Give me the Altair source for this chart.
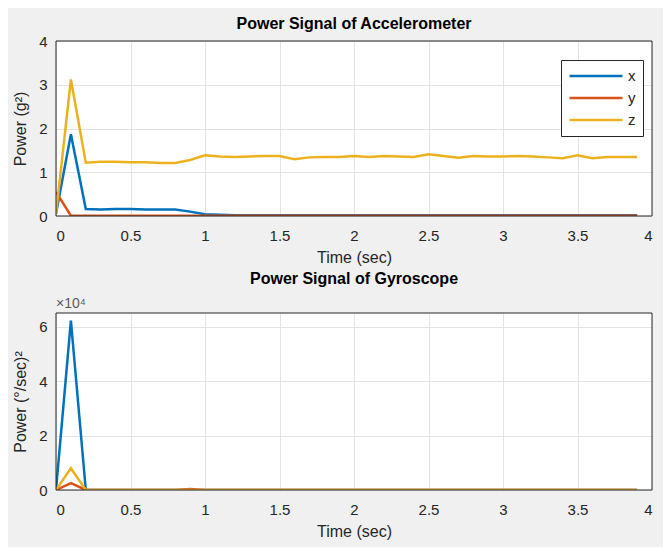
import altair as alt
import pandas as pd

time = [round(i * 0.1, 1) for i in range(40)]

acc_x = [0.05, 1.87, 0.16, 0.15, 0.16, 0.16, 0.15, 0.15, 0.15, 0.10,
         0.04, 0.03, 0.02, 0.02, 0.02, 0.02, 0.02, 0.02, 0.02, 0.02,
         0.02, 0.02, 0.02, 0.02, 0.02, 0.02, 0.02, 0.02, 0.02, 0.02,
         0.02, 0.02, 0.02, 0.02, 0.02, 0.02, 0.02, 0.02, 0.02, 0.02]
acc_y = [0.55, 0.005, 0.005, 0.005, 0.005, 0.005, 0.005, 0.005, 0.005, 0.005,
         0.005, 0.005, 0.005, 0.005, 0.005, 0.005, 0.005, 0.005, 0.005, 0.005,
         0.005, 0.005, 0.005, 0.005, 0.005, 0.005, 0.005, 0.005, 0.005, 0.005,
         0.005, 0.005, 0.005, 0.005, 0.005, 0.005, 0.005, 0.005, 0.005, 0.005]
acc_z = [0.05, 3.12, 1.22, 1.24, 1.24, 1.23, 1.23, 1.21, 1.21, 1.28,
         1.39, 1.36, 1.35, 1.36, 1.37, 1.37, 1.30, 1.34, 1.35, 1.35,
         1.37, 1.35, 1.37, 1.36, 1.35, 1.41, 1.37, 1.33, 1.37, 1.36,
         1.36, 1.37, 1.36, 1.34, 1.32, 1.39, 1.32, 1.35, 1.35, 1.35]

gyr_x = [0, 62200] + [0] * 38
gyr_y = [0, 2500, 0, 0, 0, 0, 0, 0, 0, 400] + [0] * 30
gyr_z = [0, 8000] + [0] * 38

axes_names = ["x", "y", "z"]
colors = ["#0072BD", "#D95319", "#EDB120"]

def long_df(a, b, c):
    rows = []
    for name, vals in zip(axes_names, [a, b, c]):
        for t, v in zip(time, vals):
            rows.append({"t": t, "v": v, "axis": name})
    return pd.DataFrame(rows)

acc_df = long_df(acc_x, acc_y, acc_z)
gyr_df = long_df(gyr_x, gyr_y, gyr_z)

FONT = "Liberation Sans"
W = 596
H1 = 175
H2 = 177

xaxis = alt.Axis(values=[0, 0.5, 1, 1.5, 2, 2.5, 3, 3.5, 4], title="Time (sec)",
                 labelExpr="datum.value", tickSize=0, labelPadding=12, titlePadding=6,
                 grid=True)

frame_df = pd.DataFrame({"k": [0]})

def frame(h):
    return alt.Chart(frame_df).mark_rect(fill=None, stroke="#262626", strokeWidth=1).encode(
        x=alt.value(0), x2=alt.value(W), y=alt.value(0), y2=alt.value(h))

acc_line = alt.Chart(acc_df).mark_line(strokeWidth=2.5, clip=True).encode(
    x=alt.X("t:Q", scale=alt.Scale(domain=[0, 4], nice=False), axis=xaxis),
    y=alt.Y("v:Q", scale=alt.Scale(domain=[0, 4], nice=False),
            axis=alt.Axis(values=[0, 1, 2, 3, 4], title="Power (g²)", tickSize=0,
                          labelPadding=9, titlePadding=10)),
    color=alt.Color("axis:N", scale=alt.Scale(domain=axes_names, range=colors),
                    legend=alt.Legend(orient="none", legendX=505, legendY=19, title=None,
                                      symbolType="stroke", symbolSize=2800,
                                      symbolStrokeWidth=2.5, labelFontSize=15,
                                      labelFont=FONT, labelColor="#262626",
                                      fillColor="white", strokeColor="#262626",
                                      padding=7, rowPadding=4, labelOffset=4,
                                      clipHeight=18)),
    order=alt.Order("axis:N"),
)

top = alt.layer(acc_line, frame(H1),
                title=alt.Title("Power Signal of Accelerometer", offset=2)).properties(
    width=W, height=H1)

gyr_line = alt.Chart(gyr_df).mark_line(strokeWidth=2.5, clip=True).encode(
    x=alt.X("t:Q", scale=alt.Scale(domain=[0, 4], nice=False), axis=xaxis),
    y=alt.Y("v:Q", scale=alt.Scale(domain=[0, 65000], nice=False),
            axis=alt.Axis(values=[0, 20000, 40000, 60000], title="Power (°/sec)²",
                          labelExpr="datum.value / 10000", tickSize=0,
                          labelPadding=9, titlePadding=10)),
    color=alt.Color("axis:N", scale=alt.Scale(domain=axes_names, range=colors), legend=None),
    order=alt.Order("axis:N"),
)

exp_df = pd.DataFrame({"label": ["×10⁴"]})
exp_text = alt.Chart(exp_df).mark_text(
    align="left", baseline="bottom", fontSize=14, font=FONT, color="#5a5a5a", dy=-2
).encode(x=alt.value(0), y=alt.value(0), text="label:N")

bottom = alt.layer(gyr_line, exp_text, frame(H2),
                   title=alt.Title("Power Signal of Gyroscope", offset=10)).properties(
    width=W, height=H2)

chart = alt.vconcat(top, bottom, spacing=6).resolve_scale(color="independent").properties(
    background="#f0f0f0",
    padding={"left": 4, "top": 8, "right": 10, "bottom": 8},
).configure_view(stroke=None, fill="white").configure_axis(
    domain=False, gridColor="#e3e3e3", gridWidth=1,
    labelFont=FONT, labelFontSize=15, labelColor="#262626",
    titleFont=FONT, titleFontSize=16, titleFontWeight="normal", titleColor="#262626",
).configure_title(
    font=FONT, fontSize=16, fontWeight="bold", color="#000000", anchor="middle"
)

chart.save("out.html", embed_options={"renderer": "svg", "actions": False})
